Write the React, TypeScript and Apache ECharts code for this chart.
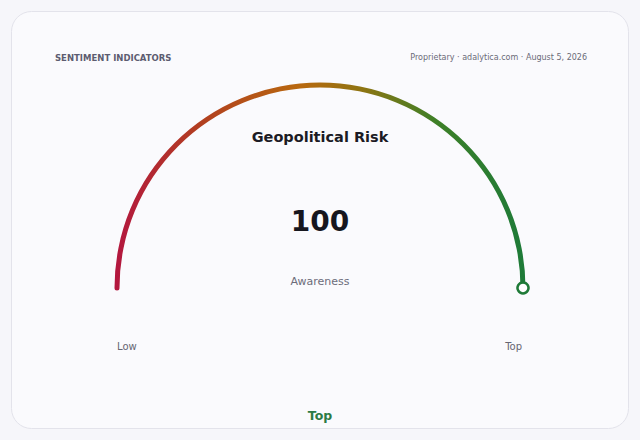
import React, { useEffect, useRef } from 'react';
import * as echarts from 'echarts';

// gauge data
const indicatorNames = ['Geopolitical Risk'];
const indicatorValues = [100];
const scaleMin = 0;
const scaleMax = 100;
const scaleLabels = ['Low', 'Top'];
const valueCaption = 'Awareness';
const levelLabel = 'Top';
const headerLeft = 'SENTIMENT INDICATORS';
const headerRight = 'Proprietary · adalytica.com · August 5, 2026';

const FONT = '"DejaVu Sans", sans-serif';

export default function App() {
  const chartRef = useRef<HTMLDivElement>(null);

  useEffect(() => {
    if (!chartRef.current) return;
    const myChart = echarts.init(chartRef.current, null, { renderer: 'svg' });

    const cx = 320;
    const cy = 288;
    const lineW = 5;
    const r = 203;
    const dot = 11;
    const gaugeData = indicatorNames.map((name, i) => ({ name, value: indicatorValues[i] }));

    const baseGauge = {
      type: 'gauge',
      center: [cx, cy],
      radius: r + lineW / 2,
      startAngle: 180,
      endAngle: 0,
      min: scaleMin,
      max: scaleMax,
      axisLine: { show: false },
      axisTick: { show: false },
      splitLine: { show: false },
      axisLabel: { show: false },
      anchor: { show: false }
    };

    const option = {
      animation: false,
      backgroundColor: '#f6f6fa',
      graphic: [
        {
          type: 'rect',
          z: -10,
          shape: { x: 11.5, y: 11.5, width: 617, height: 417, r: 20 },
          style: { fill: '#fafafd', stroke: '#e3e3eb', lineWidth: 1 }
        },
        {
          type: 'text',
          x: 55,
          y: 57.5,
          style: {
            text: headerLeft,
            fill: '#5c5c70',
            font: `bold 8.5px ${FONT}`,
            textAlign: 'left',
            textVerticalAlign: 'middle'
          }
        },
        {
          type: 'text',
          x: 587,
          y: 57.5,
          style: {
            text: headerRight,
            fill: '#6a6a78',
            font: `8px ${FONT}`,
            textAlign: 'right',
            textVerticalAlign: 'middle'
          }
        },
        {
          type: 'text',
          x: cx,
          y: 281.5,
          style: {
            text: valueCaption,
            fill: '#6c6c7a',
            font: `11px ${FONT}`,
            textAlign: 'center',
            textVerticalAlign: 'middle'
          }
        },
        {
          type: 'text',
          x: 117,
          y: 346,
          style: {
            text: scaleLabels[0],
            fill: '#666672',
            font: `10px ${FONT}`,
            textAlign: 'left',
            textVerticalAlign: 'middle'
          }
        },
        {
          type: 'text',
          x: 522,
          y: 346,
          style: {
            text: scaleLabels[1],
            fill: '#666672',
            font: `10px ${FONT}`,
            textAlign: 'right',
            textVerticalAlign: 'middle'
          }
        },
        {
          type: 'text',
          x: cx,
          y: 415,
          style: {
            text: levelLabel,
            fill: '#2c7a45',
            font: `bold 12.5px ${FONT}`,
            textAlign: 'center',
            textVerticalAlign: 'middle'
          }
        }
      ],
      series: [
        {
          ...baseGauge,
          z: 2,
          progress: {
            show: true,
            width: lineW,
            roundCap: true,
            itemStyle: {
              color: new echarts.graphic.LinearGradient(0, 0, 1, 0, [
                { offset: 0, color: '#b3163f' },
                { offset: 0.22, color: '#b2411f' },
                { offset: 0.45, color: '#b8680f' },
                { offset: 0.6, color: '#8f7412' },
                { offset: 0.78, color: '#3e7f27' },
                { offset: 1, color: '#1d7a38' }
              ])
            }
          },
          pointer: { show: false },
          title: {
            show: true,
            offsetCenter: [0, -151],
            color: '#1b1b24',
            fontSize: 14.5,
            fontWeight: 'bold',
            fontFamily: FONT
          },
          detail: {
            show: true,
            offsetCenter: [0, -67],
            color: '#16161e',
            fontSize: 28,
            fontWeight: 'bold',
            fontFamily: FONT,
            formatter: '{value}'
          },
          data: gaugeData
        },
        {
          // end marker drawn on top of the arc
          ...baseGauge,
          z: 5,
          progress: { show: false },
          pointer: {
            show: true,
            icon: 'circle',
            length: dot,
            width: dot,
            offsetCenter: [0, -r + dot / 2],
            itemStyle: { color: '#ffffff', borderColor: '#1f7a38', borderWidth: 2.5 }
          },
          title: { show: false },
          detail: { show: false },
          data: gaugeData
        }
      ]
    };

    myChart.setOption(option);
    return () => {
      myChart.dispose();
    };
  }, []);

  return (
    <div
      ref={chartRef}
      style={{ position: 'fixed', left: 0, top: 0, width: 640, height: 440 }}
    />
  );
}
